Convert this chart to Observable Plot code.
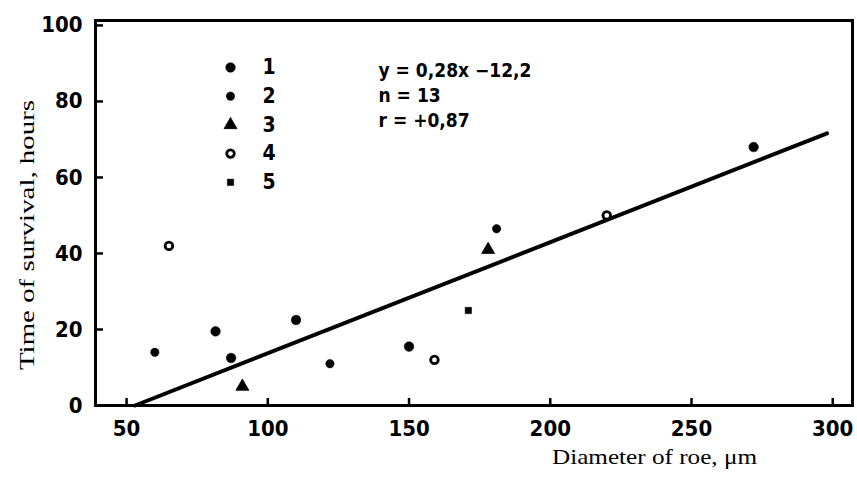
<!DOCTYPE html>
<html>
<head>
<meta charset="utf-8">
<script src="https://cdn.jsdelivr.net/npm/d3@7"></script>
<script src="https://cdn.jsdelivr.net/npm/@observablehq/plot@0.6"></script>
<style>
  html, body { margin: 0; padding: 0; background: #fff; }
  #chart svg { display: block; }
  #chart svg .cond text { font-stretch: condensed; }
</style>
</head>
<body>
<div id="chart"></div>
<script>
// ---- data ----
const diameter = [60, 65, 81.5, 87, 91, 110, 122, 150, 159, 171, 178, 181, 220, 272];
const survival = [14, 42, 19.5, 12.5, 5, 22.5, 11, 15.5, 12, 25, 41, 46.5, 50, 68];
const group    = ["2", "4", "1", "1", "3", "1", "2", "1", "4", "5", "3", "2", "4", "1"];

const lineDiameter = [53, 298];
const lineSurvival = [0, 71.6];

const xTicks = [50, 100, 150, 200, 250, 300];
const yTicks = [0, 20, 40, 60, 80, 100];

const legendLabels = ["1", "2", "3", "4", "5"];
const equationLines = ["y = 0,28x \u221212,2", "n = 13", "r = +0,87"];

const xTitle = "Diameter of roe, \u03bcm";
const yTitle = "Time of survival, hours";

// ---- build tables ----
const points = diameter.map((d, i) => ({d, s: survival[i], g: group[i]}));
const fit = lineDiameter.map((d, i) => ({d, s: lineSurvival[i]}));

const tickFont = "'DejaVu Sans Condensed', 'DejaVu Sans', sans-serif";
const titleFont = "'Liberation Serif', 'DejaVu Serif', serif";

// marker styles per group
const styles = {
  "1": {symbol: "circle", r: 4.8, fill: "black", stroke: "black", strokeWidth: 0.5},
  "2": {symbol: "circle", r: 4.2, fill: "black", stroke: "black", strokeWidth: 0.5},
  "3": {symbol: "triangle", r: 4.8, fill: "black", stroke: "black", strokeWidth: 0.8},
  "4": {symbol: "circle", r: 3.8, fill: "white", stroke: "black", strokeWidth: 2.8},
  "5": {symbol: "square", r: 3.6, fill: "black", stroke: "black", strokeWidth: 0.5}
};

const marks = [
  Plot.frame({stroke: "black", strokeWidth: 3}),
  // inward tick marks
  Plot.axisX({ticks: xTicks, tickSize: -7, strokeWidth: 2.5, text: null, label: null}),
  Plot.axisY({ticks: yTicks, tickSize: -8, strokeWidth: 2.5, text: null, label: null}),
  // tick labels
  Plot.axisX({ticks: xTicks, tickSize: 0, tickPadding: 15, label: null, className: "cond",
    fontSize: 22, fontWeight: "bold", fontFamily: tickFont, fill: "black"}),
  Plot.axisY({ticks: yTicks, tickSize: 0, tickPadding: 13, label: null, className: "cond",
    fontSize: 22, fontWeight: "bold", fontFamily: tickFont, fill: "black"}),
  // regression line
  Plot.line(fit, {x: "d", y: "s", stroke: "black", strokeWidth: 4}),
  // points by group
  ...legendLabels.map(g => Plot.dot(points.filter(p => p.g === g), {x: "d", y: "s", ...styles[g]})),
  // legend
  ...legendLabels.map((g, i) => Plot.dot([g], {frameAnchor: "top-left", dx: 135, dy: 47 + i * 28.7, ...styles[g]})),
  ...legendLabels.map((g, i) => Plot.text([g], {text: d => d, frameAnchor: "top-left", dx: 167, dy: 47 + i * 28.7,
    lineAnchor: "middle", className: "cond", fontSize: 21, fontWeight: "bold", fontFamily: tickFont, fill: "black"})),
  // equation block
  ...equationLines.map((t, i) => Plot.text([t], {text: d => d, frameAnchor: "top-left", dx: 283, dy: 50 + i * 25,
    lineAnchor: "middle", className: "cond", textAnchor: "start", fontSize: 19, fontWeight: "bold", fontFamily: tickFont, fill: "black"})),
  // axis titles
  Plot.text([xTitle], {text: d => d, frameAnchor: "bottom", dx: 78, dy: 58, textAnchor: "start",
    fontSize: 21, fontFamily: titleFont, fill: "black", className: "xtitle"}),
  Plot.text([yTitle], {text: d => d, frameAnchor: "left", dx: -68, dy: 157, rotate: -90, textAnchor: "start",
    fontSize: 21, fontFamily: titleFont, fill: "black", className: "ytitle"})
];

const svg = Plot.plot({
  width: 857,
  height: 488,
  marginLeft: 95,
  marginRight: 5,
  marginTop: 20,
  marginBottom: 83,
  style: {background: "white", color: "black", overflow: "visible"},
  x: {domain: [39, 307], axis: null},
  y: {domain: [0, 101.3], axis: null},
  marks
});

// stretch axis titles like the scanned lettering
d3.select(svg).selectAll(".xtitle text").attr("textLength", 205).attr("lengthAdjust", "spacingAndGlyphs");
d3.select(svg).selectAll(".ytitle text").attr("textLength", 270).attr("lengthAdjust", "spacingAndGlyphs");

document.getElementById("chart").appendChild(svg);
</script>
</body>
</html>
